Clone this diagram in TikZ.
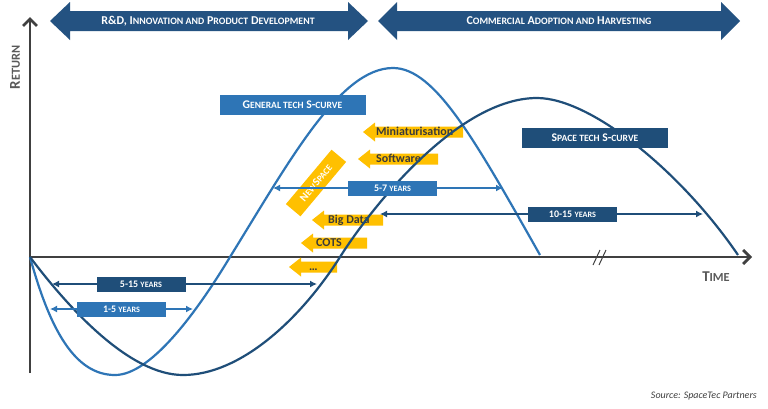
\documentclass[tikz,border=0pt]{standalone}
\usepackage{fontspec}
\setmainfont{Carlito}
\usetikzlibrary{arrows.meta}
\definecolor{navy}{HTML}{245281}
\definecolor{darkblue}{HTML}{1F4E79}
\definecolor{midblue}{HTML}{2E75B6}
\definecolor{gold}{HTML}{FFC000}
\definecolor{axisgray}{HTML}{404040}
\definecolor{labelgray}{HTML}{595959}
\definecolor{trendtext}{HTML}{3A3A3A}
\makeatletter
\newcommand{\smc}[1]{{\fontsize{\fpeval{0.82*\f@size}}{0}\selectfont #1}}
\makeatother
\begin{document}
\begin{tikzpicture}[x=1pt, y=-1pt,
    axis/.style={draw=axisgray, line width=2.8pt, -{Straight Barb[length=7pt,width=14pt]}},
    curve/.style={line width=2.2pt},
    span/.style={draw=#1, line width=1.6pt, {Latex[length=7pt,width=7pt]}-{Latex[length=7pt,width=7pt]}},
    yearbox/.style={fill=#1, text=white, inner sep=0pt, minimum width=89pt, minimum height=15pt, font=\bfseries\fontsize{10}{0}\selectfont},
    curvebox/.style={fill=#1, text=white, inner sep=0pt, minimum width=146pt, minimum height=20pt, font=\bfseries\fontsize{11.7}{0}\selectfont},
    phase/.style={text=white, inner sep=0pt, font=\bfseries\fontsize{12}{0}\selectfont},
    trend/.style={text=trendtext, inner sep=0pt, font=\bfseries\fontsize{12}{0}\selectfont},
    axislabel/.style={text=labelgray, inner sep=0pt, font=\bfseries\fontsize{15}{0}\selectfont}]
  \useasboundingbox (0,0) rectangle (768,408);
  \fill[white] (0,0) rectangle (768,408);

  % phases
  \fill[navy] (50,21) -- (70,2) -- (70,11) -- (348,11) -- (348,2) -- (368,21) -- (348,40) -- (348,31) -- (70,31) -- (70,40) -- cycle;
  \node[phase] (rnd) at (208,21) {R\&D, I\smc{NNOVATION AND} P\smc{RODUCT} D\smc{EVELOPMENT}};
  \fill[navy] (378,21) -- (397,2) -- (397,11) -- (721,11) -- (721,2) -- (740,21) -- (721,40) -- (721,31) -- (397,31) -- (397,40) -- cycle;
  \node[phase] (comm) at (559,21) {C\smc{OMMERCIAL} A\smc{DOPTION AND} H\smc{ARVESTING}};

  % axes
  \draw[axis] (30,373) -- (30,17);
  \draw[axis] (30,257) -- (752,257);
  \draw[axisgray, line width=1pt] (593,265) -- (600,250) (599,265) -- (606,250);
  \node[axislabel, rotate=90] (ret) at (15,67.5) {R\smc{ETURN}};
  \node[axislabel] (time) at (716,277) {T\smc{IME}};
  \node[text=axisgray, anchor=east, inner sep=0pt, font=\itshape\fontsize{10}{0}\selectfont] (src) at (757,396) {Source: SpaceTec Partners};

  % drivers
  \foreach \tip/\ty/\tend/\tx/\word [count=\i] in {363/132/463/376/Miniaturisation, 358/159/438/376/Software, 312/220/383/328/Big Data, 301/243/367/316/COTS, 289/267/337/309/\ldots}{
    \fill[gold] (\tip,\ty) -- (\tip+12,\ty-9.5) -- (\tip+12,\ty-5.5) -- (\tend,\ty-5.5) -- (\tend,\ty+5.5) -- (\tip+12,\ty+5.5) -- (\tip+12,\ty+9.5) -- cycle;
    \node[trend, anchor=base west] (trend\i) at (\tx,\ty+3.8) {\word};
  }
  \node[fill=gold, text=white, rotate=50, minimum width=71pt, minimum height=19pt, inner sep=0pt, font=\bfseries\fontsize{11}{0}\selectfont] (newspace) at (316,183) {N\smc{EW}S\smc{PACE}};

  % s-curves
  \draw[curve, midblue] (30,257) .. controls (50,330) and (75,375) .. (115,375)
    .. controls (150,375) and (195,315) .. (230,257)
    .. controls (290,160) and (340,68) .. (393,68)
    .. controls (435,68) and (475,140) .. (540,255);
  \draw[curve, darkblue] (30,257) .. controls (70,310) and (130,375) .. (183,375)
    .. controls (240,375) and (300,320) .. (340,257)
    .. controls (375,202) and (460,98) .. (537,98)
    .. controls (590,98) and (680,170) .. (738,255);

  % durations
  \coordinate (g57l) at (273,188);
  \coordinate (g57r) at (503,188);
  \coordinate (s1015l) at (380,214);
  \coordinate (s1015r) at (703,214);
  \coordinate (s515l) at (52,284);
  \coordinate (s515r) at (317,284);
  \coordinate (g15l) at (50,309);
  \coordinate (g15r) at (193,309);
  \draw[span=midblue] (g57l) -- (g57r);
  \draw[span=darkblue] (s1015l) -- (s1015r);
  \draw[span=darkblue] (s515l) -- (s515r);
  \draw[span=midblue] (g15l) -- (g15r);
  \node[yearbox=midblue] (b57) at (392.5,188) {5-7 \smc{YEARS}};
  \node[yearbox=darkblue] (b1015) at (572.5,214.5) {10-15 \smc{YEARS}};
  \node[yearbox=darkblue] (b515) at (141,284.5) {5-15 \smc{YEARS}};
  \node[yearbox=midblue] (b15) at (121.5,309) {1-5 \smc{YEARS}};

  % curve labels
  \node[curvebox=midblue] (general) at (292.5,104.5) {G\smc{ENERAL TECH} S-\smc{CURVE}};
  \node[curvebox=darkblue] (space) at (595,138) {S\smc{PACE TECH} S-\smc{CURVE}};
\end{tikzpicture}
\end{document}
